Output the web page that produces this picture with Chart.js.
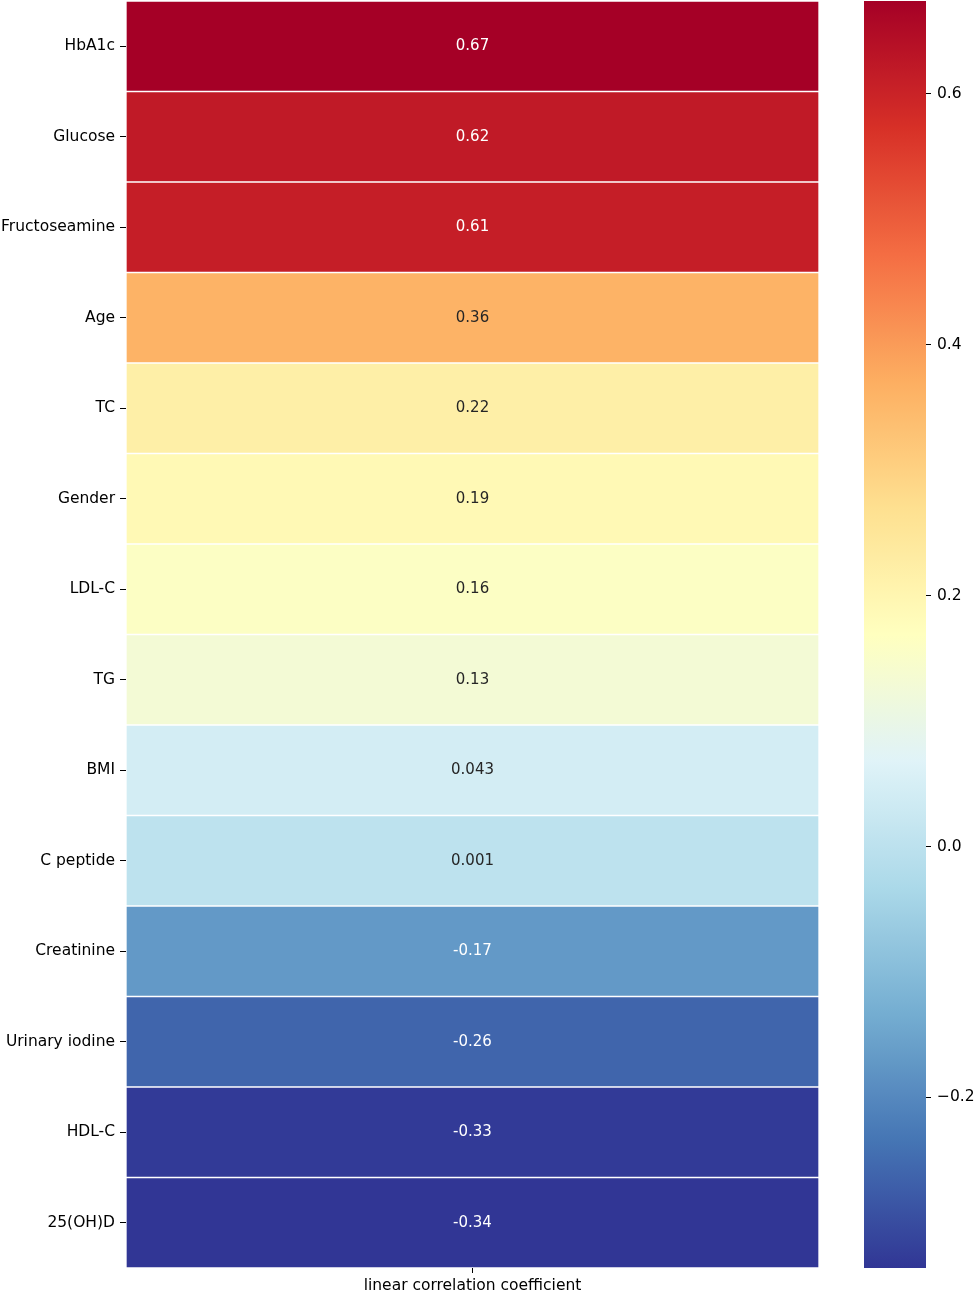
<!DOCTYPE html>
<html>
<head>
<meta charset="utf-8">
<script src="https://cdn.jsdelivr.net/npm/chart.js@4/dist/chart.umd.min.js"></script>
<style>
  body { margin: 0; background: #fff; }
  #heat { position: absolute; left: 0; top: 0; }
  #bar { position: absolute; left: 840px; top: 0; }
</style>
</head>
<body>
<canvas id="heat" width="840" height="1293"></canvas>
<canvas id="bar" width="135" height="1293"></canvas>
<script>
// data
var rowLabels = ["HbA1c", "Glucose", "Fructoseamine", "Age", "TC", "Gender", "LDL-C",
  "TG", "BMI", "C peptide", "Creatinine", "Urinary iodine", "HDL-C", "25(OH)D"];
var coefValues = [0.674, 0.62, 0.61, 0.36, 0.22, 0.19, 0.16, 0.13, 0.043, 0.001, -0.17, -0.26, -0.33, -0.336];
var coefText = ["0.67", "0.62", "0.61", "0.36", "0.22", "0.19", "0.16", "0.13", "0.043", "0.001", "-0.17", "-0.26", "-0.33", "-0.34"];
var colorbarTicks = [-0.2, 0.0, 0.2, 0.4, 0.6];
var xLabel = "linear correlation coefficient";

var vmin = Math.min.apply(null, coefValues);
var vmax = Math.max.apply(null, coefValues);

// RdYlBu reversed (blue -> red)
var rdylbu_r = ["#313695", "#4575b4", "#74add1", "#abd9e9", "#e0f3f8", "#ffffbf",
  "#fee090", "#fdae61", "#f46d43", "#d73027", "#a50026"];

function hexToRgb(h) {
  return [parseInt(h.substr(1, 2), 16), parseInt(h.substr(3, 2), 16), parseInt(h.substr(5, 2), 16)];
}

function cmap(t) {
  t = Math.max(0, Math.min(1, t));
  var pos = t * (rdylbu_r.length - 1);
  var i = Math.min(Math.floor(pos), rdylbu_r.length - 2);
  var f = pos - i;
  var a = hexToRgb(rdylbu_r[i]), b = hexToRgb(rdylbu_r[i + 1]);
  return [0, 1, 2].map(function (k) { return Math.round(a[k] + (b[k] - a[k]) * f); });
}

function colorFor(v) {
  var c = cmap((v - vmin) / (vmax - vmin));
  return "rgb(" + c[0] + "," + c[1] + "," + c[2] + ")";
}

function lum(v) {
  var c = cmap((v - vmin) / (vmax - vmin)).map(function (x) {
    x = x / 255;
    return x <= 0.03928 ? x / 12.92 : Math.pow((x + 0.055) / 1.055, 2.4);
  });
  return 0.2126 * c[0] + 0.7152 * c[1] + 0.0722 * c[2];
}

Chart.defaults.font.family = "'DejaVu Sans', sans-serif";
Chart.defaults.font.size = 15.5;
Chart.defaults.color = "#000";

var cellText = {
  id: "cellText",
  afterDatasetsDraw: function (chart) {
    var ctx = chart.ctx;
    var xs = chart.scales.x;
    var meta = chart.getDatasetMeta(0);
    ctx.save();
    ctx.font = "15px 'DejaVu Sans', sans-serif";
    ctx.textAlign = "center";
    ctx.textBaseline = "middle";
    meta.data.forEach(function (el, i) {
      ctx.fillStyle = lum(coefValues[i]) > 0.408 ? "#262626" : "#ffffff";
      ctx.fillText(coefText[i], xs.getPixelForValue(0.5), el.y);
    });
    ctx.restore();
  }
};

new Chart(document.getElementById("heat"), {
  type: "bar",
  data: {
    labels: rowLabels,
    datasets: [{
      data: coefValues.map(function () { return [0, 1]; }),
      backgroundColor: coefValues.map(colorFor),
      borderColor: "#ffffff",
      borderWidth: 1,
      borderSkipped: false,
      categoryPercentage: 1,
      barPercentage: 1
    }]
  },
  options: {
    indexAxis: "y",
    responsive: false,
    animation: false,
    layout: { padding: { top: 1, right: 21 } },
    plugins: { legend: { display: false }, tooltip: { enabled: false } },
    scales: {
      x: {
        type: "linear", min: 0, max: 1,
        afterBuildTicks: function (s) { s.ticks = [{ value: 0.5 }]; },
        afterFit: function (s) { s.height = 25; s.paddingLeft = 0; s.paddingRight = 0; },
        ticks: { callback: function () { return xLabel; }, padding: 4, maxRotation: 0 },
        grid: { drawOnChartArea: false, tickLength: 5, color: "#000", tickWidth: 1 },
        border: { display: false }
      },
      y: {
        afterFit: function (s) { s.width = 126; s.paddingTop = 0; s.paddingBottom = 0; },
        ticks: { padding: 5, autoSkip: false },
        grid: { drawOnChartArea: false, offset: false, tickLength: 6, color: "#000" },
        border: { display: false }
      }
    }
  },
  plugins: [cellText]
});

new Chart(document.getElementById("bar"), {
  type: "bar",
  data: {
    labels: [""],
    datasets: [{
      data: [[vmin, vmax]],
      backgroundColor: function (context) {
        var area = context.chart.chartArea;
        if (!area) return "#ccc";
        var g = context.chart.ctx.createLinearGradient(0, area.bottom, 0, area.top);
        for (var k = 0; k <= 50; k++) {
          g.addColorStop(k / 50, colorFor(vmin + (vmax - vmin) * k / 50));
        }
        return g;
      },
      borderWidth: 0,
      categoryPercentage: 1,
      barPercentage: 1
    }]
  },
  options: {
    responsive: false,
    animation: false,
    layout: { padding: { top: 1, left: 24, bottom: 25 } },
    plugins: { legend: { display: false }, tooltip: { enabled: false } },
    scales: {
      x: { display: false },
      y: {
        position: "right",
        min: vmin, max: vmax,
        afterBuildTicks: function (s) { s.ticks = colorbarTicks.map(function (v) { return { value: v }; }); },
        afterFit: function (s) { s.width = 49; s.paddingTop = 0; s.paddingBottom = 0; },
        ticks: {
          padding: 6,
          callback: function (v) { return v < 0 ? "\u2212" + Math.abs(v).toFixed(1) : v.toFixed(1); }
        },
        grid: { drawOnChartArea: false, tickLength: 5, color: "#000" },
        border: { display: false }
      }
    }
  }
});
</script>
</body>
</html>
